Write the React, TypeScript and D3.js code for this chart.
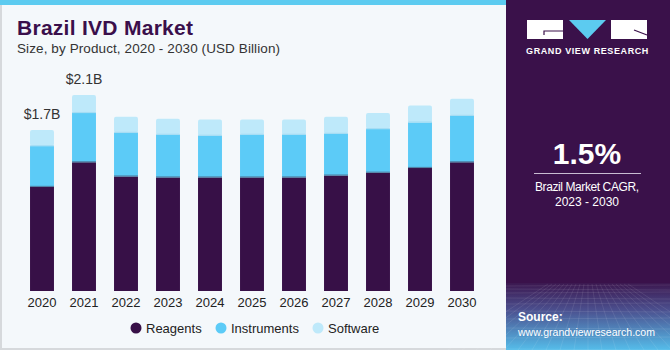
import React, { useEffect, useRef } from "react";
import * as d3 from "d3";

const years = ["2020", "2021", "2022", "2023", "2024", "2025", "2026", "2027", "2028", "2029", "2030"];
const reagents = [1.10, 1.36, 1.21, 1.20, 1.20, 1.20, 1.20, 1.22, 1.25, 1.30, 1.36];
const instruments = [0.43, 0.52, 0.46, 0.45, 0.44, 0.45, 0.45, 0.44, 0.46, 0.48, 0.49];
const software = [0.17, 0.19, 0.17, 0.17, 0.17, 0.16, 0.16, 0.18, 0.17, 0.18, 0.18];
const seriesNames = ["Reagents", "Instruments", "Software"];
const seriesColors = ["#371047", "#5ccbf7", "#bee9fa"];
const labelledBars = [{ year: "2020", text: "$1.7B" }, { year: "2021", text: "$2.1B" }];

const W = 670;
const H = 350;
const FONT = "'Liberation Sans', Arial, sans-serif";

export default function App() {
  const ref = useRef<SVGSVGElement>(null);

  useEffect(() => {
    const svg = d3.select(ref.current);
    svg.selectAll("*").remove();

    // left panel background
    svg.append("rect").attr("x", 0).attr("y", 0).attr("width", W).attr("height", H).attr("fill", "#f4f8fb");
    svg.append("rect").attr("x", 0).attr("y", 0).attr("width", 2).attr("height", H).attr("fill", "#d6d9dc");
    svg.append("rect").attr("x", 0).attr("y", H - 2).attr("width", 506).attr("height", 2).attr("fill", "#d6d9dc");
    svg.append("rect").attr("x", 0).attr("y", 0).attr("width", 506).attr("height", 5).attr("fill", "#5ccbf0");

    // titles
    svg.append("text").attr("x", 17).attr("y", 35).attr("font-family", FONT).attr("font-weight", 900)
      .attr("font-size", 21).attr("fill", "#3a0f4b").attr("textLength", 176).text("Brazil IVD Market");
    svg.append("text").attr("x", 17).attr("y", 53).attr("font-family", FONT)
      .attr("font-size", 13.5).attr("fill", "#333").attr("textLength", 263).text("Size, by Product, 2020 - 2030 (USD Billion)");

    // chart
    const baseline = 291;
    const x = d3.scaleBand().domain(years).range([21, 483]).paddingInner(0.43).paddingOuter(0.215);
    const y = d3.scaleLinear().domain([0, 1]).range([baseline, baseline - 94.7]);

    const table = years.map((yr, i) => ({ year: yr, Reagents: reagents[i], Instruments: instruments[i], Software: software[i] }));
    const stacked = d3.stack<any>().keys(seriesNames)(table);

    const g = svg.append("g");
    stacked.forEach((layer, li) => {
      g.selectAll(null).data(layer).enter().append("rect")
        .attr("x", (d: any) => x(d.data.year)!)
        .attr("width", x.bandwidth())
        .attr("y", (d) => y(d[1]))
        .attr("height", (d) => y(d[0]) - y(d[1]))
        .attr("rx", li === 2 ? 2 : 0)
        .attr("fill", seriesColors[li]);
      if (li > 0) {
        g.selectAll(null).data(layer).enter().append("rect")
          .attr("x", (d: any) => x(d.data.year)!)
          .attr("width", x.bandwidth())
          .attr("y", (d) => y(d[0]) - 1)
          .attr("height", 1.2)
          .attr("fill", li === 1 ? "#4a6f92" : "#9fd9f2")
          .attr("opacity", 0.8);
      }
    });

    // value labels
    labelledBars.forEach((lb) => {
      const i = years.indexOf(lb.year);
      const total = reagents[i] + instruments[i] + software[i];
      svg.append("text").attr("x", x(lb.year)! + x.bandwidth() / 2).attr("y", y(total) - 11)
        .attr("text-anchor", "middle").attr("font-family", FONT).attr("font-size", 14).attr("fill", "#333")
        .text(lb.text);
    });

    // x axis labels
    svg.append("g").selectAll("text").data(years).enter().append("text")
      .attr("x", (d) => x(d)! + x.bandwidth() / 2).attr("y", 307)
      .attr("text-anchor", "middle").attr("font-family", FONT).attr("font-size", 13).attr("fill", "#222")
      .text((d) => d);

    // legend
    const legendX = [136, 221, 318];
    seriesNames.forEach((name, i) => {
      svg.append("circle").attr("cx", legendX[i]).attr("cy", 328).attr("r", 5.5).attr("fill", seriesColors[i]);
      svg.append("text").attr("x", legendX[i] + 10).attr("y", 332.5).attr("font-family", FONT)
        .attr("font-size", 13).attr("fill", "#222").text(name);
    });

    // right panel
    const px = 506;
    const defs = svg.append("defs");
    const grad = defs.append("linearGradient").attr("id", "srcGrad").attr("x1", 0).attr("y1", 0).attr("x2", 0).attr("y2", 1);
    grad.append("stop").attr("offset", "0%").attr("stop-color", "#3c1850");
    grad.append("stop").attr("offset", "40%").attr("stop-color", "#4b4f8e");
    grad.append("stop").attr("offset", "100%").attr("stop-color", "#55bdea");
    svg.append("rect").attr("x", px).attr("y", 0).attr("width", W - px).attr("height", H).attr("fill", "#3a114a");
    svg.append("rect").attr("x", px).attr("y", 283).attr("width", W - px).attr("height", H - 283).attr("fill", "url(#srcGrad)");
    // faint grid texture
    const grid = svg.append("g").attr("stroke", "#ffffff").attr("stroke-opacity", 0.13).attr("stroke-width", 0.7);
    d3.range(0, 12).forEach((k) => {
      const yy = 286 + k * k * 0.5 + k * 2.5;
      grid.append("line").attr("x1", px).attr("x2", W).attr("y1", yy).attr("y2", yy + (k % 2 ? 1 : -1));
    });
    d3.range(-10, 11).forEach((k) => {
      grid.append("line").attr("x1", 588 + k * 4).attr("y1", 284).attr("x2", 588 + k * 14).attr("y2", H);
    });

    // logo
    const logo = svg.append("g");
    logo.append("rect").attr("x", 527).attr("y", 20).attr("width", 36).attr("height", 19).attr("fill", "#fff");
    logo.append("path").attr("d", "M563,31 L544,31 L544,35").attr("fill", "none").attr("stroke", "#3a114a").attr("stroke-width", 1.2);
    logo.append("path").attr("d", "M569,20 L606,20 L587.5,39 Z").attr("fill", "#5ccbf0");
    logo.append("rect").attr("x", 611).attr("y", 20).attr("width", 36).attr("height", 19).attr("fill", "#fff");
    logo.append("path").attr("d", "M634,30 L647,35").attr("stroke", "#3a114a").attr("stroke-width", 1.2);
    logo.append("text").attr("x", 587.5).attr("y", 54).attr("text-anchor", "middle").attr("font-family", FONT)
      .attr("font-weight", 700).attr("font-size", 9).attr("letter-spacing", 0.6).attr("fill", "#fff").text("GRAND VIEW RESEARCH");

    // CAGR
    svg.append("text").attr("x", 587).attr("y", 164).attr("text-anchor", "middle").attr("font-family", FONT)
      .attr("font-weight", 700).attr("font-size", 30).attr("fill", "#fff").text("1.5%");
    svg.append("line").attr("x1", 534).attr("x2", 641).attr("y1", 173.5).attr("y2", 173.5).attr("stroke", "#c8bcd2").attr("stroke-width", 1);
    svg.append("text").attr("x", 587).attr("y", 191).attr("text-anchor", "middle").attr("font-family", FONT)
      .attr("font-size", 12).attr("fill", "#fff").attr("textLength", 104).text("Brazil Market CAGR,");
    svg.append("text").attr("x", 587).attr("y", 206).attr("text-anchor", "middle").attr("font-family", FONT)
      .attr("font-size", 12).attr("fill", "#fff").text("2023 - 2030");

    // source
    svg.append("text").attr("x", 518).attr("y", 321).attr("font-family", FONT).attr("font-weight", 700)
      .attr("font-size", 12).attr("fill", "#fff").text("Source:");
    svg.append("text").attr("x", 518).attr("y", 336).attr("font-family", FONT)
      .attr("font-size", 11).attr("fill", "#fff").attr("textLength", 137).attr("lengthAdjust", "spacingAndGlyphs")
      .text("www.grandviewresearch.com");
  }, []);

  return (
    <div style={{ position: "absolute", left: 0, top: 0, width: W, height: H }}>
      <svg ref={ref} width={W} height={H} style={{ display: "block" }} />
    </div>
  );
}
